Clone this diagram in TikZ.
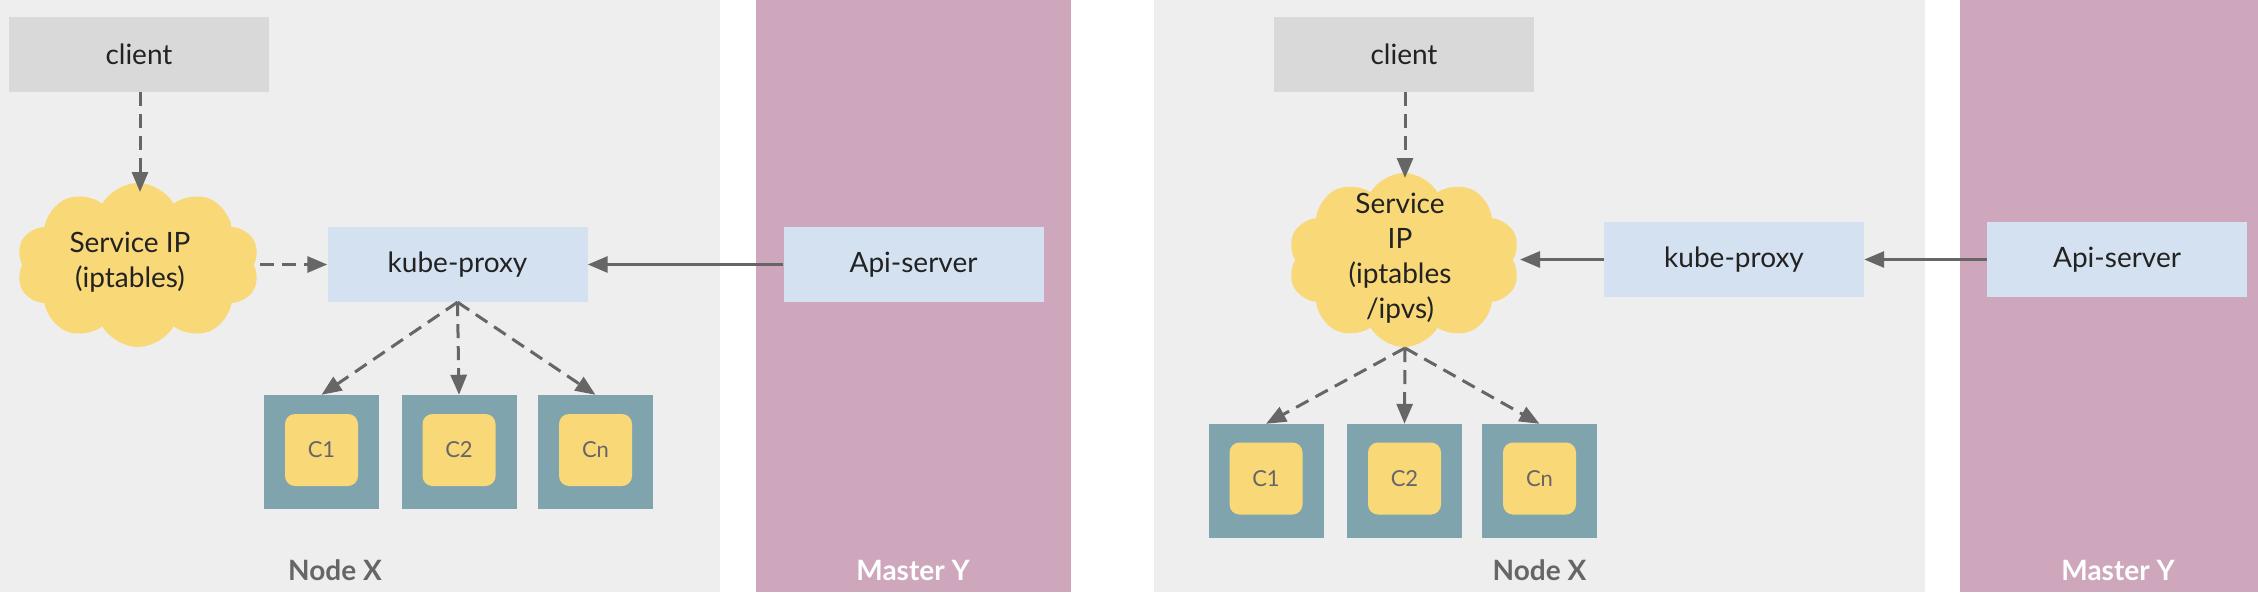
\documentclass[tikz,border=0pt]{standalone}
\usepackage{fontspec}
\setmainfont{Lato}
\usetikzlibrary{arrows.meta,shapes.symbols}
\definecolor{bggray}{HTML}{EEEEEE}
\definecolor{pinkbg}{HTML}{CEA7BD}
\definecolor{clientgray}{HTML}{D9D9D9}
\definecolor{boxblue}{HTML}{D4E1F0}
\definecolor{teal}{HTML}{7FA4AD}
\definecolor{yel}{HTML}{F9D877}
\definecolor{arrowgray}{HTML}{666666}
\definecolor{txt}{HTML}{222222}
\definecolor{lblgray}{HTML}{666666}
\tikzset{
  mainfont/.style={font=\fontsize{28}{35}\selectfont, text=txt},
  clientbox/.style={rectangle, fill=clientgray, minimum width=260pt, minimum height=75pt, inner sep=0pt, mainfont},
  bluebox/.style={rectangle, fill=boxblue, minimum width=260pt, minimum height=75pt, inner sep=0pt, mainfont},
  svccloud/.style={cloud, cloud puffs=10, cloud puff arc=120, fill=yel, inner sep=0pt},
  cloudtext/.style={mainfont, align=center, inner sep=0pt},
  pod/.style={rectangle, fill=teal, minimum width=115pt, minimum height=114pt, inner sep=0pt},
  ctr/.style={rectangle, rounded corners=10pt, fill=yel, minimum width=73pt, minimum height=72pt, inner sep=0pt, font=\fontsize{22}{26}\selectfont, text=lblgray},
  nodelbl/.style={font=\fontsize{28}{34}\selectfont\bfseries, text=lblgray},
  masterlbl/.style={font=\fontsize{28}{34}\selectfont\bfseries, text=white},
  dasharrow/.style={draw=arrowgray, line width=3pt, dash pattern=on 14pt off 8pt, -{Triangle[length=20pt,width=16pt]}},
  solidarrow/.style={draw=arrowgray, line width=3pt, -{Triangle[length=20pt,width=16pt]}},
}
\begin{document}
\begin{tikzpicture}[x=1pt,y=-1pt]
\useasboundingbox (0,0) rectangle (2258,592);
\fill[white] (0,0) rectangle (2258,592);
% panels
\fill[bggray] (0,0) rectangle (720,592);
\fill[pinkbg] (756,0) rectangle (1071,592);
\fill[bggray] (1154,0) rectangle (1925,592);
\fill[pinkbg] (1960,0) rectangle (2258,592);

% ---------- left diagram ----------
\node[clientbox] (clientA) at (139,54.5) {client};
\node[svccloud, minimum width=243pt, minimum height=164pt] (cloudA) at (138,265) {};
\coordinate (cloudAn) at (140,192);
\coordinate (cloudAe) at (260,264.5);
\node[cloudtext] (cloudAt) at (130,262) {Service IP\\(iptables)};
\node[bluebox] (kpA) at (457.5,264.5) {kube-proxy};
\node[bluebox] (apiA) at (913.5,264.5) {Api-server};
\node[pod] (p1A) at (321.5,452) {};
\node[pod] (p2A) at (459,452) {};
\node[pod] (pnA) at (595.5,452) {};
\node[ctr] (c1A) at (321.5,450) {C1};
\node[ctr] (c2A) at (459,450) {C2};
\node[ctr] (cnA) at (595.5,450) {Cn};
\node[nodelbl] (nxA) at (335,570) {Node X};
\node[masterlbl] (myA) at (913,570) {Master Y};

\draw[dasharrow] (clientA.south -| cloudAn) -- (cloudAn);
\draw[dasharrow] (cloudAe) -- (kpA.west);
\draw[solidarrow] (apiA.west) -- (kpA.east);
\draw[dasharrow] (kpA.south) -- (p1A.north);
\draw[dasharrow] (kpA.south) -- (p2A.north);
\draw[dasharrow] (kpA.south) -- (pnA.north);

% ---------- right diagram ----------
\node[clientbox] (clientB) at (1404,54.5) {client};
\node[svccloud, minimum width=232pt, minimum height=174pt] (cloudB) at (1404,260) {};
\coordinate (cloudBn) at (1405,178);
\coordinate (cloudBs) at (1405,348);
\coordinate (cloudBe) at (1520,259.5);
\node[cloudtext] (cloudBt) at (1400,258) {Service\\IP\\(iptables\\/ipvs)};
\node[bluebox] (kpB) at (1734,259.5) {kube-proxy};
\node[bluebox] (apiB) at (2117,259.5) {Api-server};
\node[pod] (p1B) at (1266,481) {};
\node[pod] (p2B) at (1404.5,481) {};
\node[pod] (pnB) at (1539.5,481) {};
\node[ctr] (c1B) at (1266,478.5) {C1};
\node[ctr] (c2B) at (1404.5,478.5) {C2};
\node[ctr] (cnB) at (1539.5,478.5) {Cn};
\node[nodelbl] (nxB) at (1539.5,570) {Node X};
\node[masterlbl] (myB) at (2118,570) {Master Y};

\draw[dasharrow] (clientB.south -| cloudBn) -- (cloudBn);
\draw[solidarrow] (kpB.west) -- (cloudBe);
\draw[solidarrow] (apiB.west) -- (kpB.east);
\draw[dasharrow] (cloudBs) -- (p1B.north);
\draw[dasharrow] (cloudBs) -- (p2B.north);
\draw[dasharrow] (cloudBs) -- (pnB.north);
\end{tikzpicture}
\end{document}
